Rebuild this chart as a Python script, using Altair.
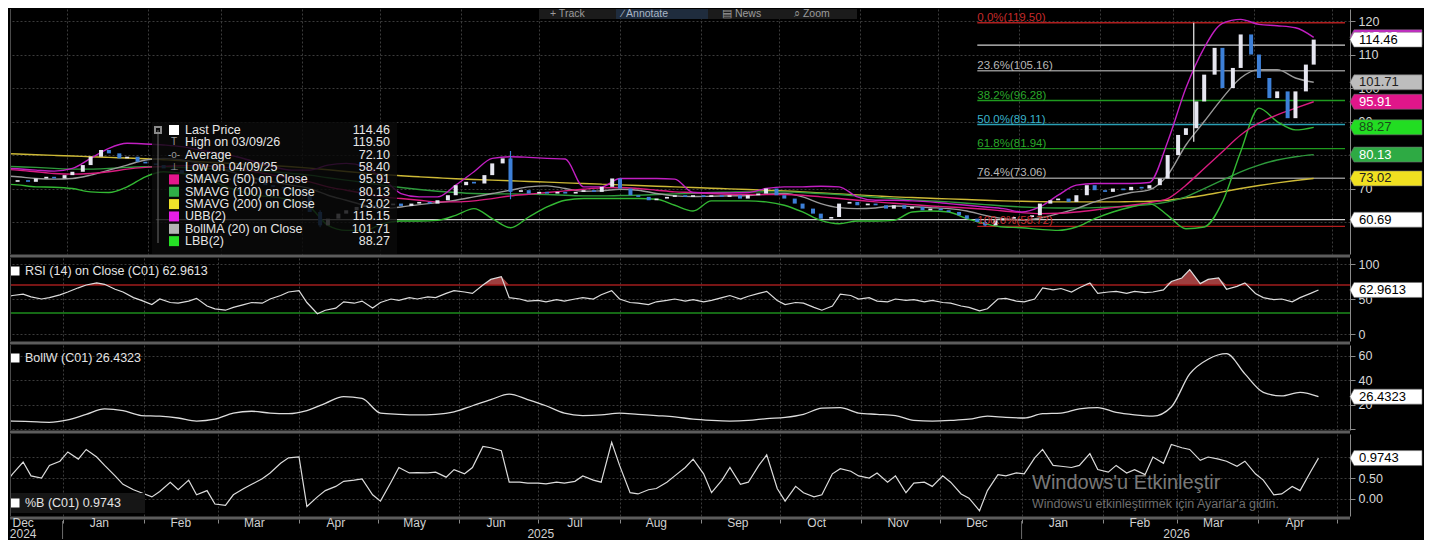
import altair as alt
import pandas as pd

FONT = "Liberation Sans"
GRID = "#3b3b3b"
TXT = "#d6d6d6"
AXC = "#8a8a8a"
SEP = "#5c5c5c"
UP = "#e6e6f0"
DOWN = "#3d80d8"
W = 1340
H_P, H_R, H_W, H_B = 245, 83, 85, 82

# ---------------- data ----------------
sample_dates = [d for d in pd.date_range("2024-12-10", "2026-04-24", freq="D") if d.weekday() in (1, 4)]
week_dates = list(pd.date_range("2024-12-06", "2026-04-24", freq="W-FRI"))

close = [
    72.0, 72.5, 72.0, 73.0, 73.5, 73.0, 74.0,
    75.0, 77.0, 79.5, 81.5, 80.5, 79.0, 79.5, 78.0, 77.5,
    77.0, 76.0, 75.5, 74.5, 74.0, 73.0, 72.0, 72.5,
    73.0, 72.0, 71.5, 72.0, 71.0, 70.5, 70.0, 69.0,
    68.0, 63.0, 59.0, 61.0, 62.5, 63.5, 64.5, 65.0, 64.5,
    65.0, 65.5, 64.8, 65.5, 66.0, 65.5, 66.5, 68.0, 71.0,
    72.0, 71.5, 74.0, 77.5, 79.0, 69.0, 69.5, 68.5,
    69.0, 68.5, 69.0, 68.5, 69.0, 69.5, 69.0, 70.5, 73.0,
    70.0, 68.0, 67.5, 66.5, 67.0, 67.5, 68.0, 67.5, 68.0,
    67.5, 68.0, 67.5, 68.0, 67.0, 68.0, 68.5, 70.0, 68.0,
    67.0, 65.5, 64.0, 62.5, 61.0, 61.5, 65.5, 66.0, 65.0,
    65.5, 65.0, 64.0, 65.0, 64.0, 64.5, 63.5, 64.0,
    63.5, 63.0, 62.0, 61.0, 60.0, 59.0, 60.5, 61.0, 61.5,
    61.5, 62.0, 65.5, 66.5, 67.0, 66.0, 68.0, 71.0, 69.5,
    69.0, 70.0, 69.5, 70.5, 70.0, 71.0, 73.0, 80.0,
    86.0, 88.0, 96.0, 104.0, 112.0, 100.0, 106.0, 116.0, 110.0,
    103.0, 97.0, 99.0, 91.0, 99.0, 107.0, 114.46,
]
rsi = [
    52, 55, 57, 53, 50, 52, 56,
    60, 66, 70, 73, 71, 64, 60, 52, 48,
    42, 50, 45, 44, 47, 51, 40, 36,
    34, 38, 42, 45, 44, 50, 55, 60,
    62, 45, 29, 34, 37, 46, 44, 47, 37,
    45, 50, 48, 52, 50, 53, 52, 58, 62,
    60, 58, 70, 78, 82, 52, 50, 47,
    48, 46, 49, 47, 50, 52, 50, 56, 62,
    50, 45, 44, 42, 46, 48, 50, 47, 49,
    46, 48, 52, 55, 50, 54, 58, 61, 48,
    42, 45, 44, 38, 34, 40, 57, 55, 50,
    52, 47, 46, 50, 48, 49, 46, 48,
    45, 44, 40, 38, 33, 36, 50, 51, 47,
    46, 50, 66, 63, 65, 60, 66, 73, 58,
    60, 61, 58, 61, 59, 60, 63, 75,
    80, 92, 72, 78, 80, 64, 68, 73, 58,
    52, 49, 50, 46, 52, 58, 62.96,
]
pctb = [
    0.35, 0.60, 0.88, 0.55, 0.50, 0.80, 0.90,
    1.12, 0.95, 1.18, 1.00, 0.80, 0.55, 0.35, 0.22, 0.15,
    0.05, 0.18, 0.40, 0.22, 0.45, 0.10, 0.20, -0.12,
    -0.15, 0.10, 0.25, 0.35, 0.48, 0.62, 0.85, 0.98,
    1.00, -0.18, 0.05, 0.20, 0.30, 0.42, 0.45, 0.48, 0.10,
    -0.05, 0.40, 0.75, 0.62, 0.63, 0.62, 0.64, 0.52, 0.70,
    0.60, 0.75, 1.25, 1.22, 1.15, 0.40, 0.40, 0.38,
    0.38, 0.36, 0.40, 0.38, 0.42, 0.55, 0.45, 0.40, 1.35,
    0.80, 0.15, 0.12, 0.22, 0.25, 0.40, 0.55, 0.75, 0.95,
    0.60, 0.15, 0.45, 0.75, 0.35, 0.40, 0.80, 1.05, 0.25,
    -0.05, 0.30, 0.15, 0.05, 0.10, 0.60, 0.72, 0.66, 0.55,
    0.50, 0.62, 0.40, 0.55, 0.15, 0.38, 0.40, 0.30,
    0.55, 0.40, 0.12, 0.02, -0.28, 0.20, 0.58, 0.55, 0.62,
    0.60, 0.98, 1.18, 0.80, 0.78, 0.75, 0.80, 1.08, 0.70,
    0.64, 0.80, 0.62, 0.70, 0.58, 1.00, 0.85, 1.30,
    1.22, 1.18, 0.92, 1.00, 0.95, 0.90, 0.78, 0.90, 0.60,
    0.45, 0.10, 0.12, 0.30, 0.20, 0.65, 0.9743,
]

# weekly (Friday) series, from Dec 6 2024
bollma = [
    73.8, 73.5, 73.0, 72.8,
    73.0, 74.0, 75.5, 77.0, 78.5,
    79.0, 78.5, 77.5, 76.0,
    74.5, 73.0, 72.0, 71.0,
    70.0, 68.0, 66.5, 65.0,
    64.0, 64.5, 65.2, 65.8, 66.5,
    67.5, 68.5, 69.5, 70.5,
    70.8, 70.0, 69.2, 69.3,
    69.8, 69.5, 68.5, 67.8, 67.6,
    67.7, 67.8, 67.9, 68.3,
    68.5, 67.5, 65.5, 64.3, 64.0,
    64.2, 64.8, 64.6, 64.3,
    64.0, 63.3, 62.0, 61.0,
    60.6, 61.2, 62.5, 64.0, 66.0,
    67.5, 68.8, 69.6, 74.0,
    83.0, 90.0, 97.0, 103.0,
    105.5, 105.5, 103.0, 101.71,
]
ubb = [
    76.2, 75.9, 75.5, 75.2,
    76.0, 79.0, 82.0, 83.5, 83.3,
    83.0, 82.5, 81.5, 80.5,
    79.5, 78.0, 76.5, 75.5,
    75.5, 77.0, 77.5, 76.5,
    73.0, 68.5, 67.5, 67.5, 71.0,
    75.0, 79.0, 79.5, 79.3,
    79.0, 78.8, 70.5, 70.5,
    73.0, 73.0, 73.0, 72.8, 68.8,
    68.7, 68.7, 68.8, 70.0,
    70.5, 70.5, 70.7, 70.5, 67.5,
    66.5, 66.5, 66.3, 66.0,
    65.5, 65.0, 64.5, 64.0,
    63.0, 64.5, 68.0, 71.0, 71.5,
    71.5, 71.5, 71.8, 84.0,
    100.0, 112.0, 119.3, 120.5,
    119.0, 118.6, 118.0, 115.15,
]
lbb = [
    71.4, 71.1, 70.5, 70.4,
    70.0, 69.0, 68.8, 70.5, 73.5,
    75.0, 74.5, 73.5, 71.5,
    69.5, 68.0, 67.5, 66.5,
    64.5, 59.0, 57.5, 57.5,
    59.5, 60.3, 60.3, 60.5, 62.0,
    64.0, 61.0, 58.3, 61.5,
    64.5, 66.5, 67.0, 67.0,
    67.0, 67.0, 66.8, 65.0, 63.3,
    66.3, 66.3, 66.3, 66.0,
    65.0, 63.0, 60.5, 59.5, 60.3,
    60.3, 60.5, 63.0, 63.3,
    63.0, 61.0, 59.5, 58.5,
    58.3, 57.8, 57.5, 58.5, 61.0,
    63.0, 64.5, 65.5, 62.0,
    58.0, 58.5, 66.0, 81.0,
    94.0, 90.0, 87.5, 88.27,
]
sma50 = [
    75.8, 75.5, 75.0, 74.5,
    74.3, 74.5, 75.0, 75.8, 76.3,
    76.6, 76.8, 76.8, 76.5,
    76.0, 75.0, 74.0, 73.0,
    72.0, 70.5, 69.5, 68.5,
    67.5, 67.0, 66.5, 66.0, 66.0,
    66.3, 67.0, 67.8, 68.3,
    68.8, 69.3, 69.8, 70.2,
    70.3, 70.0, 69.5, 69.0, 68.8,
    68.5, 68.3, 68.2, 68.2,
    68.2, 68.0, 67.5, 67.0, 66.5,
    66.0, 65.6, 65.2, 64.8,
    64.5, 64.2, 63.8, 63.3,
    62.8, 62.5, 62.6, 63.0, 63.6,
    64.3, 65.0, 65.8, 67.0,
    71.0, 76.0, 81.0, 86.0,
    89.5, 92.0, 94.0, 95.91,
]
sma100 = [
    76.7, 76.5, 76.3, 76.0,
    75.8, 75.8, 76.0, 76.3, 76.5,
    76.5, 76.3, 76.0, 75.8,
    75.5, 75.3, 75.0, 74.5,
    74.0, 73.2, 72.5, 71.8,
    71.0, 70.3, 69.7, 69.2, 68.8,
    68.5, 68.4, 68.4, 68.3,
    68.2, 68.0, 67.8, 67.8,
    67.9, 68.0, 68.2, 68.4, 68.6,
    68.8, 68.9, 69.0, 69.0,
    69.0, 68.8, 68.5, 68.2, 67.8,
    67.4, 67.0, 66.6, 66.3,
    66.0, 65.6, 65.2, 64.8,
    64.5, 64.3, 64.2, 64.2, 64.3,
    64.5, 64.8, 65.2, 66.0,
    67.5, 70.0, 72.5, 75.0,
    77.0, 78.5, 79.5, 80.13,
]
sma200 = [
    80.5, 80.3, 80.1, 79.9,
    79.7, 79.5, 79.3, 79.1, 78.9,
    78.6, 78.3, 78.0, 77.7,
    77.4, 77.1, 76.8, 76.5,
    76.1, 75.6, 75.1, 74.6,
    74.2, 73.8, 73.5, 73.2, 72.9,
    72.7, 72.5, 72.3, 72.1,
    71.9, 71.7, 71.5, 71.3,
    71.1, 70.9, 70.7, 70.5, 70.3,
    70.1, 69.9, 69.7, 69.5,
    69.3, 69.0, 68.7, 68.4, 68.1,
    67.8, 67.5, 67.3, 67.1,
    66.9, 66.7, 66.5, 66.3,
    66.2, 66.1, 66.0, 66.0, 66.0,
    66.0, 66.1, 66.2, 66.5,
    67.2, 68.0, 69.0, 70.0,
    70.9, 71.7, 72.4, 73.02,
]
bollw = [
    6.8, 6.5, 6.0, 5.5,
    7.5, 12.0, 16.5, 15.0, 11.0,
    10.5, 9.0, 6.5, 8.0,
    13.0, 14.5, 13.0, 12.5,
    15.0, 21.0, 26.5, 25.0,
    13.0, 12.0, 11.5, 12.0, 14.0,
    19.0, 24.0, 28.5, 24.0,
    19.0, 13.0, 11.0, 11.5,
    13.0, 12.0, 11.0, 10.0, 8.0,
    7.0, 6.5, 7.0, 8.5,
    9.5, 12.0, 17.0, 17.5, 13.0,
    12.0, 11.0, 7.0, 6.5,
    7.0, 8.0, 10.5, 9.5,
    9.0, 12.5, 13.0, 16.5, 17.5,
    13.5, 11.5, 10.5, 18.0,
    45.0, 57.0, 61.5, 45.0,
    30.0, 27.0, 30.0, 26.43,
]

wick_dates = ["2025-04-08", "2025-06-20", "2025-12-19", "2026-03-09"]
wick_hi = [63.5, 81.2, 60.5, 119.5]
wick_lo = [58.4, 66.8, 58.7, 84.0]
wick_col = [DOWN, DOWN, DOWN, "#f0f0f0"]

fib_levels = [119.50, 105.16, 96.28, 89.11, 81.94, 73.06, 58.72]
fib_labels = ["0.0%(119.50)", "23.6%(105.16)", "38.2%(96.28)", "50.0%(89.11)",
              "61.8%(81.94)", "76.4%(73.06)", "100.0%(58.72)"]
fib_line_col = ["#b01e1e", "#8c8c8c", "#1f9a1f", "#2a9fb4", "#1f9a1f", "#8c8c8c", "#b01e1e"]
fib_text_col = ["#c62a2a", "#b8b8b8", "#2aa82a", "#3ab4cc", "#2aa82a", "#b8b8b8", "#c62a2a"]
fib_start = "2025-12-16"
x_end = "2026-05-06"

hline_vals = [60.69, 112.8]
hline_start = ["2025-02-04", "2025-12-16"]

series_names = ["SMAVG200", "SMAVG100", "LBB", "BollMA", "SMAVG50", "UBB"]
series_colors = ["#cdb936", "#2e9a3c", "#33b833", "#9a9a9a", "#d81b7f", "#c21fc2"]

leg_labels = ["Last Price", "High on 03/09/26", "Average", "Low on 04/09/25",
              "SMAVG (50)  on Close", "SMAVG (100)  on Close", "SMAVG (200)  on Close",
              "UBB(2)", "BollMA (20)  on Close", "LBB(2)"]
leg_values = ["114.46", "119.50", "72.10", "58.40", "95.91", "80.13", "73.02",
              "115.15", "101.71", "88.27"]
leg_swatch = ["#ffffff", "", "", "", "#e4168c", "#2fae47", "#efe22a", "#e81ee8", "#b4b4b4", "#25e025"]
leg_icon = ["", "T", "-o-", "\u22a5", "", "", "", "", "", ""]

price_tag_lab = ["115.15", "114.46", "101.71", "95.91", "88.27", "80.13", "73.02", "60.69"]
price_tag_val = [115.15, 114.46, 101.71, 95.91, 88.27, 80.13, 73.02, 60.69]
price_tag_bg = ["#d21fd2", "#ffffff", "#bdbdbd", "#e0168a", "#22dd22", "#2eaa44", "#f0e020", "#ffffff"]
price_tag_fg = ["#ffffff", "#000000", "#202020", "#ffffff", "#1a4a1a", "#ffffff", "#202020", "#000000"]

month_labels = ["Dec", "Jan", "Feb", "Mar", "Apr", "May", "Jun", "Jul", "Aug", "Sep",
                "Oct", "Nov", "Dec", "Jan", "Feb", "Mar", "Apr"]
month_label_dates = ["2024-12-17", "2025-01-15", "2025-02-15", "2025-03-15", "2025-04-15",
                     "2025-05-15", "2025-06-15", "2025-07-15", "2025-08-15", "2025-09-15",
                     "2025-10-15", "2025-11-15", "2025-12-15", "2026-01-15", "2026-02-15",
                     "2026-03-15", "2026-04-15"]
year_labels = ["2024", "2025", "2026"]
year_label_dates = ["2024-12-17", "2025-07-02", "2026-03-01"]
year_breaks = ["2025-01-01", "2026-01-01"]

# ---------------- frames ----------------
n = min(len(sample_dates), len(close), len(rsi), len(pctb))
df_s = pd.DataFrame({"date": sample_dates[:n], "close": close[:n], "rsi": rsi[:n], "pctb": pctb[:n]})
m = min(len(week_dates), len(bollma), len(ubb), len(lbb), len(sma50), len(sma100), len(sma200), len(bollw))
df_w = pd.DataFrame({"date": week_dates[:m], "SMAVG200": sma200[:m], "SMAVG100": sma100[:m],
                     "LBB": lbb[:m], "BollMA": bollma[:m], "SMAVG50": sma50[:m], "UBB": ubb[:m],
                     "bollw": bollw[:m]})
lines_long = df_w.melt(id_vars="date", value_vars=series_names, var_name="series", value_name="v")
df_wick = pd.DataFrame({"date": pd.to_datetime(wick_dates), "hi": wick_hi, "lo": wick_lo, "col": wick_col})
df_fib = pd.DataFrame({"start": pd.to_datetime([fib_start] * len(fib_levels)),
                       "end": pd.to_datetime([x_end] * len(fib_levels)),
                       "v": fib_levels, "lab": fib_labels, "lc": fib_line_col, "tc": fib_text_col})
df_hl = pd.DataFrame({"start": pd.to_datetime(hline_start), "end": pd.to_datetime([x_end] * 2), "v": hline_vals})
df_ptag = pd.DataFrame({"lab": price_tag_lab, "v": price_tag_val, "bg": price_tag_bg, "fg": price_tag_fg})
df_months = pd.DataFrame({"date": pd.to_datetime(month_label_dates), "lab": month_labels})
df_years = pd.DataFrame({"date": pd.to_datetime(year_label_dates), "lab": year_labels})
df_ybreak = pd.DataFrame({"date": pd.to_datetime(year_breaks)})
one = pd.DataFrame({"k": [0]})

# ---------------- helpers ----------------
XDOM = [alt.DateTime(year=2024, month=12, date=12), alt.DateTime(year=2026, month=5, date=6)]
AXG = alt.Axis(grid=True, labels=False, ticks=False, domain=False,
               tickCount={"interval": "month", "step": 1},
               gridColor=GRID, gridDash=[2, 2], title=None)
AXB = alt.Axis(grid=True, labels=False, ticks=True, tickSize=4, tickColor=AXC, offset=3, domain=False,
               tickCount={"interval": "month", "step": 1},
               gridColor=GRID, gridDash=[2, 2], title=None)


def X(ax, field="date"):
    return alt.X(f"{field}:T", scale=alt.Scale(domain=XDOM), axis=ax, title=None)


def yaxis(values, fmt=None, hide=None):
    kw = dict(orient="right", values=values, grid=True, gridColor=GRID, gridDash=[2, 2],
              tickSize=5, tickColor=AXC, domainColor=AXC, labelColor=TXT, labelFont=FONT,
              labelFontSize=12.5, labelPadding=3, title=None)
    if fmt:
        kw["format"] = fmt
    if hide:
        cond = " || ".join(f"datum.value == {h}" for h in hide)
        kw["labelExpr"] = f"({cond}) ? '' : datum.label"
    return alt.Axis(**kw)


def make_y(domain, axis):
    sc = alt.Scale(domain=domain, nice=False, zero=False)
    return lambda f: alt.Y(f"{f}:Q", scale=sc, axis=axis, title=None)


def vtext(label, x, y, size=12.5, color=TXT, align="left", baseline="middle", **kw):
    return alt.Chart(one).mark_text(text=label, font=FONT, fontSize=size, color=color,
                                    align=align, baseline=baseline, **kw).encode(
        x=alt.value(x), y=alt.value(y))


def vrect(x1, x2, y1, y2, fill, opacity=1.0):
    return alt.Chart(one).mark_rect(color=fill, opacity=opacity).encode(
        x=alt.value(x1), x2=alt.value(x2), y=alt.value(y1), y2=alt.value(y2))


def vrule(x1, x2, y1, y2, color, width):
    return alt.Chart(one).mark_rule(color=color, strokeWidth=width).encode(
        x=alt.value(x1), x2=alt.value(x2), y=alt.value(y1), y2=alt.value(y2))


def vsquare(x, y, color, size=81, filled=True):
    return alt.Chart(one).mark_square(size=size, color=color, filled=filled, opacity=1).encode(
        x=alt.value(x), y=alt.value(y))


TAG_PATH = "M -1.12 0 L -1 -0.22 L 1 -0.22 L 1 0.22 L -1 0.22 Z"
TAG_SIZE = 68 * 68


def tags(df, Yf):
    pts = alt.Chart(df).mark_point(shape=TAG_PATH, size=TAG_SIZE, filled=True, opacity=1,
                                   stroke="#707070", strokeWidth=0.6).encode(
        x=alt.value(1378), y=Yf("v"), fill=alt.Fill("bg:N", scale=None))
    txt = alt.Chart(df).mark_text(align="left", baseline="middle", font=FONT, fontSize=13).encode(
        x=alt.value(1349), y=Yf("v"), text="lab:N", color=alt.Color("fg:N", scale=None))
    return [pts, txt]


def panel_label(text, y):
    return [vsquare(5, y, "#ffffff", size=81), vtext(text, 15, y, size=12.5, color="#e4e4e4")]


def left_border(h):
    return vrule(0.5, 0.5, 0, h, "#4a4a4a", 1)


# ---------------- price panel ----------------
YP = make_y([50.45, 123.6], yaxis([60, 70, 80, 90, 100, 110, 120], hide=[60, 80]))

p_layers = []
p_layers.append(alt.Chart(df_hl).mark_rule(color="#d0d0d0", strokeWidth=1.2, clip=True).encode(
    x=X(AXG, "start"), x2=alt.X2("end:T"), y=YP("v")))
p_layers.append(alt.Chart(df_fib).mark_rule(strokeWidth=1.3, clip=True).encode(
    x=X(AXG, "start"), x2=alt.X2("end:T"), y=YP("v"), color=alt.Color("lc:N", scale=None)))
p_layers.append(alt.Chart(lines_long).mark_line(strokeWidth=1.4, clip=True, interpolate="monotone").encode(
    x=X(AXG), y=YP("v"),
    stroke=alt.Stroke("series:N", scale=alt.Scale(domain=series_names, range=series_colors), legend=None),
    detail="series:N"))
p_layers.append(alt.Chart(df_wick).mark_rule(strokeWidth=1.2, clip=True).encode(
    x=X(AXG), y=YP("hi"), y2=alt.Y2("lo:Q"), color=alt.Color("col:N", scale=None)))
p_layers.append(alt.Chart(df_s).transform_window(
    window=[alt.WindowFieldDef(op="lag", field="close", param=1, **{"as": "open"})],
    sort=[alt.SortField("date")],
).transform_filter("isValid(datum.open)").mark_bar(size=4, clip=True).encode(
    x=X(AXG), y=YP("close"), y2=alt.Y2("open:Q"),
    color=alt.condition("datum.close >= datum.open", alt.value(UP), alt.value(DOWN))))

# legend box
p_layers.append(vrect(142, 387, 113, 245, "#0a0a0a", 0.82))
p_layers.append(vrule(148, 148, 121, 234, "#6a6a6a", 1))
p_layers.append(vsquare(148, 121, "#8a8a8a", size=36, filled=False))
for i, (lab, val, sw, ic) in enumerate(zip(leg_labels, leg_values, leg_swatch, leg_icon)):
    yy = 121 + i * 12.35
    if sw:
        p_layers.append(vsquare(164, yy, sw, size=100))
    if ic:
        p_layers.append(vtext(ic, 164, yy, size=10, color="#9a9a9a", align="center"))
    p_layers.append(vtext(lab, 175, yy, size=12.5, color="#e6e6e6"))
    p_layers.append(vtext(val, 380, yy, size=12.5, color="#e6e6e6", align="right"))

# fib labels
p_layers.append(alt.Chart(df_fib).mark_text(align="left", baseline="alphabetic", dy=-2, font=FONT,
                                            fontSize=11.5).encode(
    x=X(AXG, "start"), y=YP("v"), text="lab:N", color=alt.Color("tc:N", scale=None)))

# toolbar
p_layers.append(vrect(529, 847, 0, 10, "#1b1b1b"))
p_layers.append(vrect(606, 698, 0, 10, "#1f2c3d"))
p_layers.append(vtext("+ Track", 540, 0, size=10.5, color="#9c9c9c", baseline="top"))
p_layers.append(vtext("\u2215 Annotate", 612, 0, size=10.5, color="#aab6c6", baseline="top"))
p_layers.append(vtext("\u25a4 News", 712, 0, size=10.5, color="#9c9c9c", baseline="top"))
p_layers.append(vtext("\u2315 Zoom", 784, 0, size=10.5, color="#9c9c9c", baseline="top"))

p_layers += tags(df_ptag, YP)
p_layers.append(left_border(H_P))
price = alt.layer(*p_layers).properties(width=W, height=H_P)

# ---------------- RSI panel ----------------
YR = make_y([-10, 108.6], yaxis([0, 50, 100]))
df_lv = pd.DataFrame({"v": [70, 30], "c": ["#a01c1c", "#1c8c1c"]})
r_layers = [
    alt.Chart(df_s).transform_calculate(top="max(datum.rsi, 70)", base="70").mark_area(
        color="#b84a4a", opacity=0.85, clip=True).encode(x=X(AXG), y=YR("top"), y2=alt.Y2("base:Q")),
    alt.Chart(df_s).transform_calculate(bot="min(datum.rsi, 30)", base="30").mark_area(
        color="#3a9a3a", opacity=0.85, clip=True).encode(x=X(AXG), y=YR("bot"), y2=alt.Y2("base:Q")),
    alt.Chart(df_lv).mark_rule(strokeWidth=1.5).encode(y=YR("v"), color=alt.Color("c:N", scale=None)),
    alt.Chart(df_s).mark_line(color="#dcdcdc", strokeWidth=1.2, clip=True).encode(x=X(AXG), y=YR("rsi")),
]
r_layers += panel_label("RSI (14)  on Close (C01) 62.9613", 13)
r_layers += tags(pd.DataFrame({"lab": ["62.9613"], "v": [62.96], "bg": ["#ffffff"], "fg": ["#000000"]}), YR)
r_layers.append(vrule(0, W, -2, -2, SEP, 3))
r_layers.append(left_border(H_R))
rsi_panel = alt.layer(*r_layers).properties(width=W, height=H_R)

# ---------------- BollW panel ----------------
YW = make_y([-0.8, 68.6], yaxis([0, 20, 40, 60], hide=[0]))
w_layers = [
    alt.Chart(df_w).mark_line(color="#dcdcdc", strokeWidth=1.3, clip=True, interpolate="monotone").encode(
        x=X(AXG), y=YW("bollw")),
]
w_layers += panel_label("BollW (C01) 26.4323", 13)
w_layers += tags(pd.DataFrame({"lab": ["26.4323"], "v": [26.43], "bg": ["#ffffff"], "fg": ["#000000"]}), YW)
w_layers.append(vrule(0, W, -2, -2, SEP, 3))
w_layers.append(left_border(H_W))
bw_panel = alt.layer(*w_layers).properties(width=W, height=H_W)

# ---------------- %B panel ----------------
YB = make_y([-0.405, 1.548], yaxis([0, 0.5, 1.0], fmt=".2f", hide=[1]))
b_layers = [
    alt.Chart(df_s).mark_line(color="#dcdcdc", strokeWidth=1.2, clip=True).encode(x=X(AXB), y=YB("pctb")),
    vtext("Windows'u Etkinle\u015ftir", 1022, 49, size=20, color="#a0a0a0", opacity=0.75),
    vtext("Windows'u etkinle\u015ftirmek i\u00e7in Ayarlar'a gidin.", 1022, 70, size=12.5,
          color="#8a8a8a", opacity=0.8),
    vrect(0, 135, 59, 79, "#161616"),
]
b_layers += panel_label("%B (C01) 0.9743", 69)
b_layers += tags(pd.DataFrame({"lab": ["0.9743"], "v": [0.9743], "bg": ["#ffffff"], "fg": ["#000000"]}), YB)
b_layers.append(vrule(0, W, -2, -2, SEP, 3))
b_layers.append(vrule(0, W, 84, 84, SEP, 3))
b_layers.append(left_border(H_B))
b_layers.append(alt.Chart(df_months).mark_text(font=FONT, fontSize=12, color="#d0d0d0", baseline="middle").encode(
    x=X(AXB), y=alt.value(89), text="lab:N"))
b_layers.append(alt.Chart(df_years).mark_text(font=FONT, fontSize=12, color="#d0d0d0", baseline="middle").encode(
    x=X(AXB), y=alt.value(100), text="lab:N"))
b_layers.append(alt.Chart(df_ybreak).mark_rule(color="#6a6a6a", strokeWidth=1).encode(
    x=X(AXB), y=alt.value(87), y2=alt.value(105)))
pb_panel = alt.layer(*b_layers).properties(width=W, height=H_B)

chart = alt.vconcat(price, rsi_panel, bw_panel, pb_panel, spacing=4, bounds="flush").properties(
    padding=0, background="#000000"
).configure_view(stroke=None)

chart.save("out.html", embed_options={"renderer": "svg", "actions": False})
